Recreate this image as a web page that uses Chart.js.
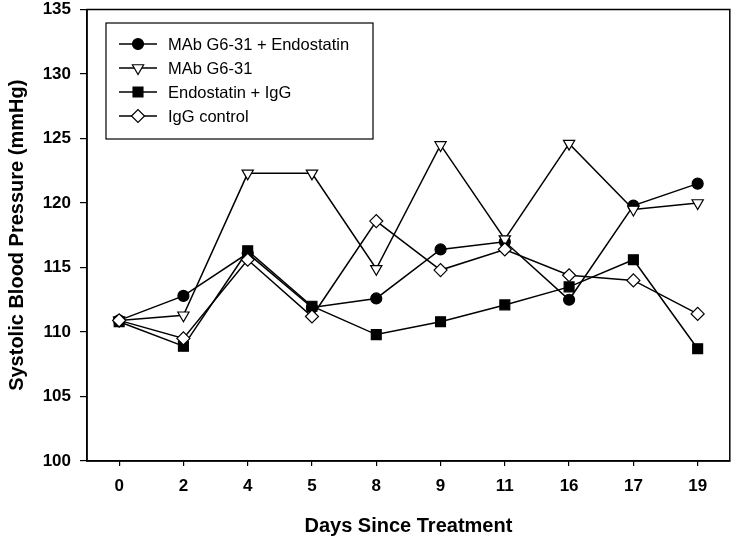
<!DOCTYPE html>
<html>
<head>
<meta charset="utf-8">
<script src="https://cdn.jsdelivr.net/npm/chart.js@4/dist/chart.umd.min.js"></script>
<style>
    html, body { margin: 0; padding: 0; background: #fff; }
    #wrap { width: 738px; height: 541px; }
</style>
</head>
<body>
<div id="wrap"><canvas id="bpChart" width="738" height="541"></canvas></div>
<script>

// days since treatment (evenly spaced categories)
const days = ["0", "2", "4", "5", "8", "9", "11", "16", "17", "19"];

const comboData = [110.9, 112.8, 116.1, 111.9, 112.6, 116.4, 117.0, 112.5, 119.8, 121.5];
const mabData = [110.9, 111.3, 122.3, 122.3, 114.9, 124.5, 117.2, 124.6, 119.5, 120.0];
const endoData = [110.8, 108.9, 116.3, 112.0, 109.8, 110.8, 112.1, 113.5, 115.6, 108.7];
const iggData = [110.9, 109.5, 115.6, 111.2, 118.6, 114.8, 116.4, 114.4, 114.0, 111.4];

const seriesLabels = ["MAb G6-31 + Endostatin", "MAb G6-31", "Endostatin + IgG", "IgG control"];
const yTicks = [100, 105, 110, 115, 120, 125, 130, 135];

const FONT = "'Liberation Sans', Arial, sans-serif";

// marker styles per series
const markers = [
    { style: "circle", radius: 5.5, fill: "#000", rotation: 0 },
    { style: "triangle", radius: 6.5, fill: "#fff", rotation: 180 },
    { style: "rect", radius: 7, fill: "#000", rotation: 0 },
    { style: "rectRot", radius: 6.5, fill: "#fff", rotation: 0 }
];

function makeSet(i, data, order) {
    return {
        label: seriesLabels[i],
        data: data,
        borderColor: "#000",
        borderWidth: 1.5,
        pointStyle: markers[i].style,
        pointRadius: markers[i].radius,
        pointRotation: markers[i].rotation,
        pointBackgroundColor: markers[i].fill,
        pointBorderColor: "#000",
        pointBorderWidth: 1.2,
        tension: 0,
        order: order
    };
}

// frame around the plot area
const framePlugin = {
    id: "frame",
    beforeDatasetsDraw(chart) {
        const a = chart.chartArea;
        const ctx = chart.ctx;
        ctx.save();
        ctx.strokeStyle = "#000";
        ctx.lineWidth = 1.5;
        ctx.strokeRect(a.left, a.top, a.right - a.left, a.bottom - a.top);
        ctx.restore();
    }
};

// legend box drawn inside the plot
const boxLegend = {
    id: "boxLegend",
    afterDatasetsDraw(chart) {
        const ctx = chart.ctx;
        const bx = 106, by = 23, bw = 267, bh = 116;
        ctx.save();
        ctx.fillStyle = "#fff";
        ctx.fillRect(bx, by, bw, bh);
        ctx.strokeStyle = "#000";
        ctx.lineWidth = 1.2;
        ctx.strokeRect(bx, by, bw, bh);
        ctx.font = "16.5px " + FONT;
        ctx.textBaseline = "middle";
        for (let i = 0; i < seriesLabels.length; i++) {
            const y = 44 + i * 24;
            ctx.strokeStyle = "#000";
            ctx.lineWidth = 1.5;
            ctx.beginPath();
            ctx.moveTo(119, y);
            ctx.lineTo(157, y);
            ctx.stroke();
            ctx.fillStyle = markers[i].fill;
            ctx.lineWidth = 1.2;
            Chart.helpers.drawPoint(ctx, {
                pointStyle: markers[i].style,
                radius: markers[i].radius,
                rotation: markers[i].rotation,
                borderWidth: 1.2
            }, 138, y);
            ctx.fillStyle = "#000";
            ctx.fillText(seriesLabels[i], 168, y + 1);
        }
        ctx.restore();
    }
};

new Chart("bpChart", {
    type: "line",
    data: {
        labels: days,
        datasets: [
            makeSet(0, comboData, 4),
            makeSet(1, mabData, 3),
            makeSet(2, endoData, 2),
            makeSet(3, iggData, 1)
        ]
    },
    options: {
        responsive: false,
        animation: false,
        layout: { padding: { left: 0, right: 6, top: 9.5, bottom: 0 } },
        plugins: {
            legend: { display: false },
            tooltip: { enabled: false }
        },
        scales: {
            x: {
                type: "category",
                offset: true,
                grid: { display: true, drawOnChartArea: false, tickLength: 5, color: "#000", lineWidth: 1.2, offset: false },
                border: { display: true, color: "#000", width: 1.5 },
                ticks: { color: "#000", padding: 10, font: { family: FONT, size: 17, weight: "bold" }, maxRotation: 0 },
                title: {
                    display: true,
                    text: "Days Since Treatment",
                    color: "#000",
                    font: { family: FONT, size: 20, weight: "bold" },
                    padding: { top: 0, bottom: 3 }
                },
                afterFit(scale) { scale.height = 80; }
            },
            y: {
                min: 100,
                max: 135,
                afterBuildTicks(scale) { scale.ticks = yTicks.map(v => ({ value: v })); },
                grid: { display: true, drawOnChartArea: false, tickLength: 7, color: "#000", lineWidth: 1.2 },
                border: { display: true, color: "#000", width: 1.5 },
                ticks: { color: "#000", padding: 9, font: { family: FONT, size: 17, weight: "bold" } },
                title: {
                    display: true,
                    text: "Systolic Blood Pressure (mmHg)",
                    color: "#000",
                    font: { family: FONT, size: 20, weight: "bold" },
                    padding: { top: 5, bottom: 0 }
                },
                afterFit(scale) {
                    scale.width = 87;
                    scale.paddingTop = 0;
                    scale.paddingBottom = 0;
                }
            }
        }
    },
    plugins: [framePlugin, boxLegend]
});
</script>
</body>
</html>
